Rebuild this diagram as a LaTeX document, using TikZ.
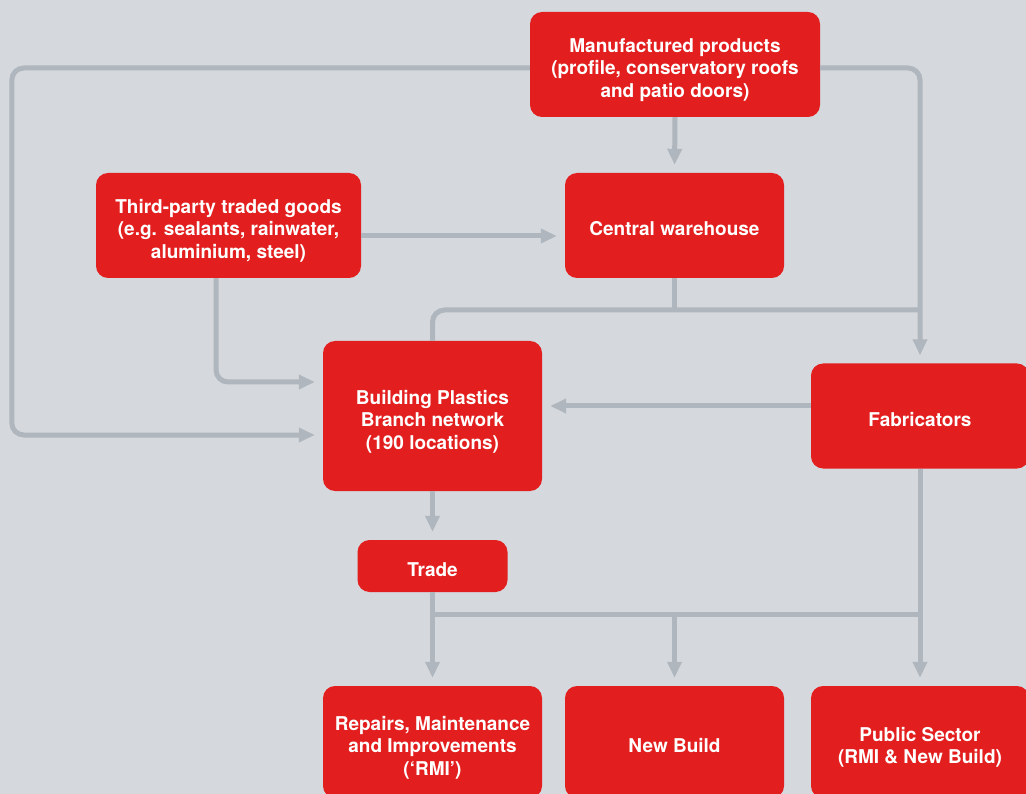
\documentclass[tikz,border=0pt]{standalone}
\usepackage{fontspec}
\setsansfont{TeX Gyre Heros}
\usepackage{tikz}
\usetikzlibrary{arrows.meta}

\definecolor{bgGrey}{HTML}{D5D8DD}
\definecolor{boxRed}{HTML}{E21F1E}
\definecolor{lineGrey}{HTML}{B0B6BD}

% box text, set a little below the centre of its box
\newcommand{\boxtext}[1]{\raisebox{-6pt}[\height][\depth]{%
    \begin{tabular}{@{}c@{}}#1\end{tabular}}}

\begin{document}
\begin{tikzpicture}[x=1pt,y=-1pt,>={Triangle[width=14pt,length=16pt]},
    box/.style={rectangle,fill=boxRed,text=white,rounded corners=12pt,
        inner sep=0pt,
        font=\sffamily\bfseries\fontsize{19}{22.5}\selectfont},
    flow/.style={draw=lineGrey,line width=5pt,rounded corners=12pt},
    tip/.style={->,shorten >=8pt}]
    % Page: same size as the reference, pixels as points
    \useasboundingbox (0,0) rectangle (1026,794);
    \fill[bgGrey] (0,0) rectangle (1026,794);
    % Boxes
    \node[box,minimum width=290,minimum height=105] (mfd) at (675,64.5)
        {\boxtext{Manufactured products\\(profile, conservatory roofs\\and patio doors)}};
    \node[box,minimum width=265,minimum height=105] (tpg) at (228.5,225.5)
        {\boxtext{Third-party traded goods\\(e.g. sealants, rainwater,\\aluminium, steel)}};
    \node[box,minimum width=219,minimum height=105] (cw) at (674.5,225.5)
        {\boxtext{Central warehouse}};
    \node[box,minimum width=219,minimum height=150] (bp) at (432.5,416)
        {\boxtext{Building Plastics\\Branch network\\(190 locations)}};
    \node[box,minimum width=218,minimum height=105] (fab) at (920,416)
        {\boxtext{Fabricators}};
    \node[box,minimum width=150,minimum height=52] (trade) at (432.5,566)
        {\boxtext{Trade}};
    \node[box,minimum width=219,minimum height=112] (rmi) at (432.5,742)
        {\boxtext{Repairs, Maintenance\\and Improvements\\(`RMI')}};
    \node[box,minimum width=219,minimum height=112] (nb) at (674.5,742)
        {\boxtext{New Build}};
    \node[box,minimum width=218,minimum height=112] (ps) at (920,742)
        {\boxtext{Public Sector\\(RMI \& New Build)}};
    % Junction points of the grey lines
    \coordinate (split) at (920,310);
    \coordinate (bus) at (920,614);
    % Connectors
    \draw[flow,tip] (mfd.south) -- (cw.north);
    \draw[flow,tip] ([yshift=-3.5pt]mfd.west) -- ++(-518,0) |- ([yshift=-19pt]bp.west);
    \draw[flow,tip] ([yshift=-3.5pt]mfd.east) -| (fab.north);
    \draw[flow,tip] ([yshift=-10.5pt]tpg.east) -- ([yshift=-10.5pt]cw.west);
    \draw[flow,tip] ([xshift=-12.5pt]tpg.south) |- ([yshift=34pt]bp.west);
    \draw[flow] (cw.south) -- (cw.south |- split);
    \draw[flow] (bp.north) |- (split);
    \draw[flow,tip] ([yshift=10pt]fab.west) -- ([yshift=10pt]bp.east);
    \draw[flow,tip] (bp.south) -- (trade.north);
    \draw[flow,tip] (trade.south) -- (rmi.north);
    \draw[flow] (rmi.north |- bus) -- (bus);
    \draw[flow,tip] (nb.north |- bus) -- (nb.north);
    \draw[flow,tip] (fab.south) -- (ps.north);
\end{tikzpicture}
\end{document}
